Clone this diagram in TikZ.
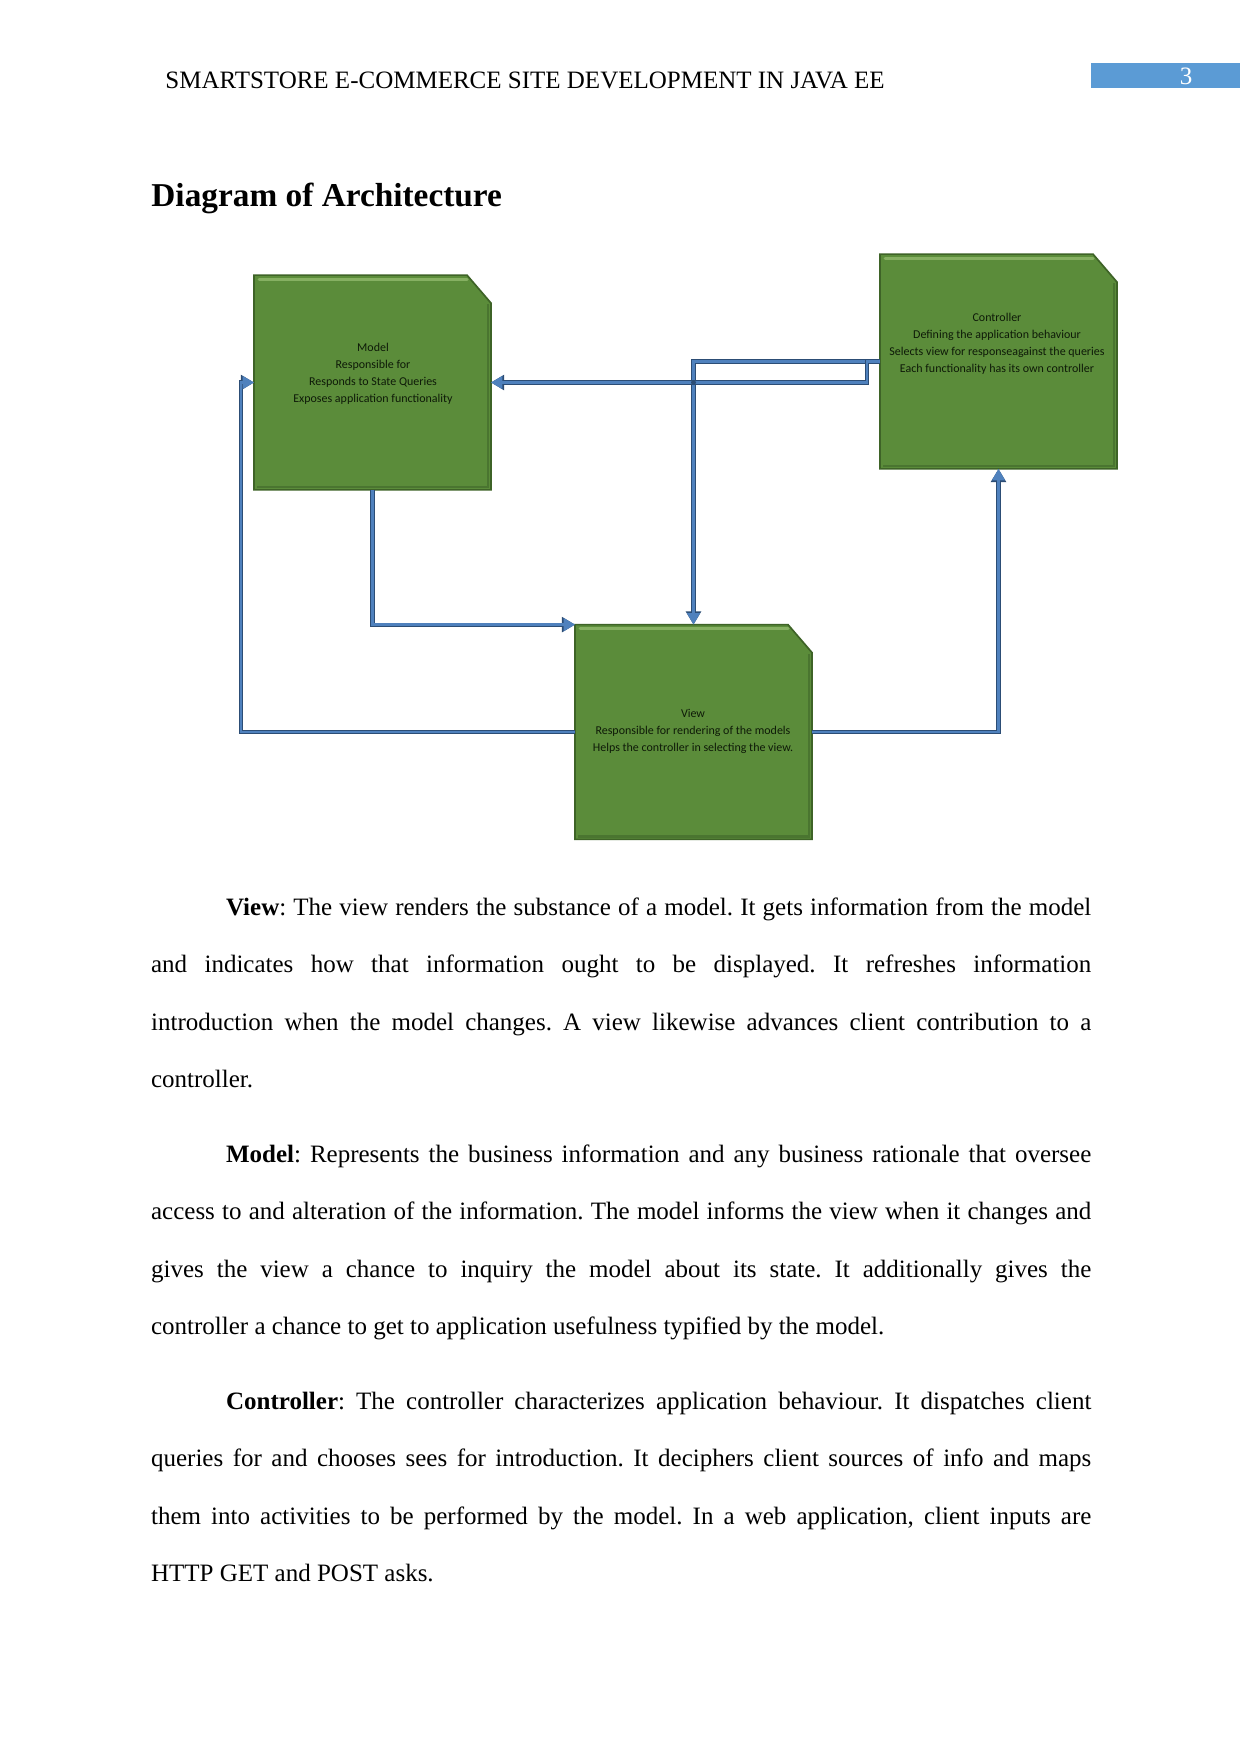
\documentclass[tikz,border=0pt]{standalone}
\usepackage{fontspec}
\setmainfont{Liberation Serif}
\newfontfamily\boxfont{Carlito}
\usetikzlibrary{arrows.meta,calc}
\frenchspacing
\definecolor{boxfill}{HTML}{5B8C3A}
\definecolor{boxedge}{HTML}{3E6327}
\definecolor{boxhi}{HTML}{86B062}
\definecolor{boxdark}{HTML}{4A7530}
\definecolor{boxtext}{HTML}{0E1A08}
\definecolor{linecol}{HTML}{4F81BD}
\definecolor{lineedge}{HTML}{2C4D75}
\definecolor{pagebox}{HTML}{5B9BD5}
\newcommand\drawgbox[1]{%
  \fill[black,opacity=0.3,shift={(3,3)}] (#1.north west) -- ([xshift=-11.5pt]#1.north east) -- ([yshift=-13.4pt]#1.north east) -- (#1.south east) -- (#1.south west) -- cycle;
  \filldraw[fill=boxfill,draw=boxedge,line width=0.8pt] (#1.north west) -- ([xshift=-11.5pt]#1.north east) -- ([yshift=-13.4pt]#1.north east) -- (#1.south east) -- (#1.south west) -- cycle;
  \draw[boxhi,line width=1.6pt,line cap=round] ([xshift=2.5pt,yshift=-2pt]#1.north west) -- ([xshift=-11.5pt,yshift=-2pt]#1.north east);
  \draw[boxdark,line width=1.2pt] ([xshift=-1.5pt,yshift=-14pt]#1.north east) -- ([xshift=-1.5pt,yshift=1.5pt]#1.south east) -- ([xshift=1.5pt,yshift=1.5pt]#1.south west);
}
\begin{document}
\begin{tikzpicture}[x=0.48pt,y=-0.48pt,
  gbox/.style={rectangle,draw=none,inner sep=0pt,minimum width=113.3pt,minimum height=102.7pt},
  btext/.style={font=\boxfont\fontsize{5.75pt}{8.2pt}\selectfont,align=center,text=boxtext,inner sep=0pt},
  conn/.style={draw=linecol,line width=1.2pt,-{Triangle[length=5.5pt,width=6pt]},
    preaction={draw=lineedge,line width=2pt,-{Triangle[length=6.3pt,width=7pt]}}},
  para/.style={anchor=base west,inner sep=0pt,text width=451.3pt,align=justify,
    font=\fontsize{12pt}{27.6pt}\selectfont}]
\fill[white] (0,0) rectangle (1241,1754);
\useasboundingbox (0,0) rectangle (1241,1754);

% header
\node[anchor=base west,inner sep=0pt,font=\fontsize{12pt}{14pt}\selectfont] (header) at (165,88) {SMARTSTORE E-COMMERCE SITE DEVELOPMENT IN JAVA EE};
\fill[pagebox] (1091,63) rectangle (1240,88);
\node[anchor=base,inner sep=0pt,text=white,font=\fontsize{12pt}{14pt}\selectfont] (pagenum) at (1186,84) {3};

% heading
\node[anchor=base west,inner sep=0pt,font=\fontsize{16pt}{19pt}\selectfont\bfseries] (heading) at (151,206) {Diagram of Architecture};

% boxes
\node[gbox] (model) at (372.5,382.5) {};
\node[gbox] (ctrl) at (998.5,361.5) {};
\node[gbox] (view) at (693.5,732) {};
\drawgbox{model}
\drawgbox{ctrl}
\drawgbox{view}

\node[btext] (modeltxt) at (373,374) {Model\\Responsible for\\Responds to State Queries\\Exposes application functionality};
\node[btext] (ctrltxt) at (997,344) {Controller\\Defining the application behaviour\\Selects view for responseagainst the queries\\Each functionality has its own controller};
\node[btext] (viewtxt) at (693,731) {View\\Responsible for rendering of the models\\Helps the controller in selecting the view.};

% connectors
\draw[conn] (ctrl.west) -| (view.north);
\draw[conn] (ctrl.west) -- ++(-13,0) |- (model.east);
\draw[conn] (model.south) |- (view.north west);
\draw[conn] (view.west) -| ($(model.west)+(-13,0)$) -- (model.west);
\draw[conn] (view.east) -| (ctrl.south);
\fill[lineedge] (view.north |- model.east) circle[radius=1.2pt];

% body text
\node[para] (pview) at (150.7,915) {\hspace*{36pt}\textbf{View}: The view renders the substance of a model. It gets information from the model\linebreak
and indicates how that information ought to be displayed. It refreshes information\linebreak
introduction when the model changes. A view likewise advances client contribution to a\linebreak
controller.};
\node[para] (pmodel) at (150.7,1162) {\hspace*{36pt}\textbf{Model}: Represents the business information and any business rationale that oversee\linebreak
access to and alteration of the information. The model informs the view when it changes and\linebreak
gives the view a chance to inquiry the model about its state. It additionally gives the\linebreak
controller a chance to get to application usefulness typified by the model.};
\node[para] (pctrl) at (150.7,1409) {\hspace*{36pt}\textbf{Controller}: The controller characterizes application behaviour. It dispatches client\linebreak
queries for and chooses sees for introduction. It deciphers client sources of info and maps\linebreak
them into activities to be performed by the model. In a web application, client inputs are\linebreak
HTTP GET and POST asks.};
\end{tikzpicture}
\end{document}
